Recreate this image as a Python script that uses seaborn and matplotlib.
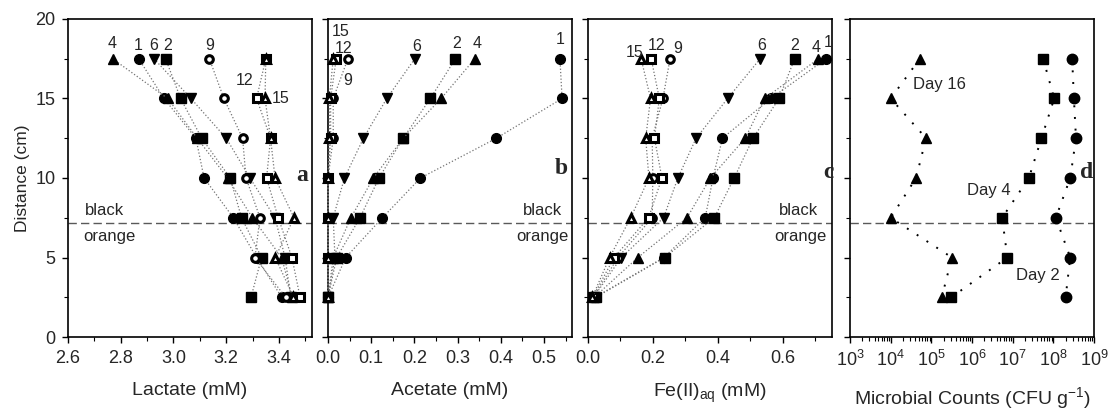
import numpy as np
import pandas as pd
import seaborn as sns
import matplotlib.pyplot as plt
from matplotlib.ticker import MultipleLocator, LogLocator, NullFormatter

# depths (cm) shared by every profile
distance = [17.5, 15, 12.5, 10, 7.5, 5, 2.5]

# profiles for days 1, 2, 4, 6, 9, 12, 15
days = ['1', '2', '4', '6', '9', '12', '15']

lactate = {
    '1': [2.868, 2.964, 3.085, 3.116, 3.227, 3.315, 3.41],
    '2': [2.97, 3.027, 3.107, 3.215, 3.258, 3.334, 3.294],
    '4': [2.769, 2.978, 3.09, 3.205, 3.299, 3.41, 3.45],
    '6': [2.926, 3.066, 3.2, 3.29, 3.385, 3.423, 3.445],
    '9': [3.136, 3.191, 3.262, 3.275, 3.328, 3.309, 3.425],
    '12': [3.35, 3.315, 3.368, 3.353, 3.397, 3.449, 3.48],
    '15': [3.35, 3.347, 3.368, 3.385, 3.457, 3.386, 3.455],
}

acetate = {
    '1': [0.537, 0.542, 0.39, 0.214, 0.126, 0.041, 0.0],
    '2': [0.295, 0.237, 0.174, 0.118, 0.074, 0.02, 0.0],
    '4': [0.34, 0.262, 0.174, 0.105, 0.053, 0.012, 0.0],
    '6': [0.201, 0.136, 0.082, 0.038, 0.012, 0.016, 0.0],
    '9': [0.046, 0.012, 0.012, 0.0, 0.0, 0.0, 0.0],
    '12': [0.019, 0.006, 0.006, 0.0, 0.0, 0.0, 0.0],
    '15': [0.012, 0.003, 0.003, 0.0, 0.0, 0.0, 0.0],
}

iron = {
    '1': [0.733, 0.563, 0.414, 0.385, 0.361, 0.234, 0.022],
    '2': [0.636, 0.588, 0.508, 0.45, 0.389, 0.236, 0.025],
    '4': [0.709, 0.544, 0.484, 0.377, 0.305, 0.154, 0.02],
    '6': [0.53, 0.43, 0.333, 0.277, 0.233, 0.103, 0.018],
    '9': [0.253, 0.231, 0.198, 0.2, 0.198, 0.093, 0.016],
    '12': [0.195, 0.22, 0.205, 0.228, 0.187, 0.081, 0.015],
    '15': [0.164, 0.193, 0.178, 0.188, 0.132, 0.067, 0.014],
}

# microbial counts (CFU/g)
count_days = ['Day 2', 'Day 4', 'Day 16']
counts = {
    'Day 2': [2.9e8, 3.2e8, 3.6e8, 2.6e8, 1.15e8, 2.6e8, 2.0e8],
    'Day 4': [5.6e7, 1.05e8, 5.1e7, 2.5e7, 5.5e6, 7.4e6, 3.1e5],
    'Day 16': [5.2e4, 1.0e4, 7.4e4, 4.2e4, 1.0e4, 3.2e5, 1.8e5],
}

# marker style per day
style = {
    '1': ('o', 'k', 7), '2': ('s', 'k', 6.5), '4': ('^', 'k', 7.5),
    '6': ('v', 'k', 7.5), '9': ('o', 'w', 5.5), '12': ('s', 'w', 5.2),
    '15': ('^', 'w', 6),
}
count_style = {'Day 2': 'o', 'Day 4': 's', 'Day 16': '^'}

sns.set_style('ticks')
plt.rcParams['font.family'] = ['Liberation Sans', 'DejaVu Sans']
plt.rcParams['mathtext.fontset'] = 'custom'
plt.rcParams['mathtext.rm'] = 'Liberation Sans'
plt.rcParams['mathtext.it'] = 'Liberation Sans:italic'

fig = plt.figure(figsize=(11.09, 4.12), dpi=100)
bottom, height = 0.182, 0.772
lefts = [0.0613, 0.2958, 0.530, 0.7665]
width = 0.220
axes = [fig.add_axes([l, bottom, width, height]) for l in lefts]


def long_form(table, keys):
    rows = []
    for d in keys:
        for dist, v in zip(distance, table[d]):
            rows.append({'day': d, 'value': v, 'distance': dist})
    return pd.DataFrame(rows)


def draw_profiles(ax, table):
    df = long_form(table, days)
    for d in days:
        sub = df[df['day'] == d]
        m, fc, ms = style[d]
        sns.lineplot(data=sub, x='value', y='distance', ax=ax, sort=False,
                     estimator=None, color='0.45', linestyle=':', linewidth=0.9,
                     marker=m, markersize=ms, markerfacecolor=fc,
                     markeredgecolor='k',
                     markeredgewidth=1.0 if fc == 'k' else 2.2, zorder=3,
                     clip_on=False)


def labels(ax, items):
    for txt, x, y in items:
        ax.text(x, y, txt, fontsize=11.5, ha='center', va='center')


def zone_labels(ax, xb, xo):
    ax.axhline(7.2, color='0.35', linestyle=(0, (6, 3)), linewidth=1.0, zorder=1)
    ax.text(xb, 7.98, 'black', fontsize=12, ha='center', va='center')
    ax.text(xo, 6.3, 'orange', fontsize=12, ha='center', va='center')


def panel_letter(ax, x, y, s):
    ax.text(x, y, s, fontsize=17, fontweight='bold', family='Liberation Serif',
            ha='center', va='center')


# panel a - lactate
ax = axes[0]
draw_profiles(ax, lactate)
ax.set_xlim(2.6, 3.525)
ax.xaxis.set_major_locator(MultipleLocator(0.2))
ax.xaxis.set_minor_locator(MultipleLocator(0.1))
ax.set_xlabel('Lactate (mM)')
ax.set_ylabel('Distance (cm)', fontsize=12.5)
labels(ax, [('4', 2.769, 18.47), ('1', 2.868, 18.3), ('6', 2.926, 18.3),
            ('2', 2.977, 18.3), ('9', 3.136, 18.3), ('12', 3.271, 16.16),
            ('15', 3.408, 14.97)])
zone_labels(ax, 2.738, 2.757)
panel_letter(ax, 3.488, 10.15, 'a')

# panel b - acetate
ax = axes[1]
draw_profiles(ax, acetate)
ax.set_xlim(0, 0.565)
ax.xaxis.set_major_locator(MultipleLocator(0.1))
ax.xaxis.set_minor_locator(MultipleLocator(0.05))
ax.set_xlabel('Acetate (mM)')
labels(ax, [('15', 0.0295, 19.2), ('12', 0.036, 18.16), ('9', 0.045, 16.16),
            ('6', 0.206, 18.26), ('2', 0.298, 18.47), ('4', 0.346, 18.47),
            ('1', 0.537, 18.68)])
zone_labels(ax, 0.497, 0.497)
panel_letter(ax, 0.54, 10.6, 'b')

# panel c - Fe(II)
ax = axes[2]
draw_profiles(ax, iron)
ax.set_xlim(0, 0.75)
ax.xaxis.set_major_locator(MultipleLocator(0.2))
ax.xaxis.set_minor_locator(MultipleLocator(0.1))
ax.set_xlabel('Fe(II)$_{\\mathrm{aq}}$ (mM)')
labels(ax, [('15', 0.144, 17.9), ('12', 0.212, 18.33), ('9', 0.277, 18.16),
            ('6', 0.534, 18.33), ('2', 0.637, 18.33), ('4', 0.703, 18.2),
            ('1', 0.739, 18.5)])
zone_labels(ax, 0.649, 0.653)
panel_letter(ax, 0.741, 10.36, 'c')

# panel d - microbial counts
ax = axes[3]
ax.set_xscale('log')
cdf = long_form(counts, count_days)
for d in count_days:
    sub = cdf[cdf['day'] == d]
    sns.lineplot(data=sub, x='value', y='distance', ax=ax, sort=False,
                 estimator=None, color='k', linestyle=(0, (1, 5)), linewidth=1.4,
                 marker=count_style[d], markersize=7.5, markerfacecolor='k',
                 markeredgecolor='k', markeredgewidth=1.0, zorder=3)
ax.axhline(7.2, color='0.35', linestyle=(0, (6, 3)), linewidth=1.0, zorder=1)
ax.set_xlim(1e3, 1e9)
ax.xaxis.set_major_locator(LogLocator(base=10, numticks=12))
ax.xaxis.set_minor_locator(LogLocator(base=10, subs=np.arange(2, 10), numticks=100))
ax.xaxis.set_minor_formatter(NullFormatter())
ax.set_xlabel('Microbial Counts (CFU g$^{-1}$)')
for txt, lx, ly in [('Day 16', 10 ** 5.196, 15.85), ('Day 4', 10 ** 6.42, 9.2),
                    ('Day 2', 10 ** 7.63, 3.84)]:
    ax.text(lx, ly, txt, fontsize=12, ha='center', va='center')
panel_letter(ax, 10 ** 8.82, 10.34, 'd')

for i, ax in enumerate(axes):
    ax.set_ylim(0, 20)
    ax.yaxis.set_major_locator(MultipleLocator(5))
    ax.yaxis.set_minor_locator(MultipleLocator(2.5))
    ax.tick_params(axis='both', which='major', direction='out', length=4,
                   width=1, labelsize=13, color='k', pad=5)
    ax.tick_params(axis='both', which='minor', direction='out', length=3,
                   width=0.8, color='k')
    ax.xaxis.label.set_size(14)
    ax.xaxis.labelpad = 11
    if i > 0:
        ax.set_ylabel('')
        ax.tick_params(axis='y', labelleft=False)
    for sp in ax.spines.values():
        sp.set_visible(True)
        sp.set_color('k')
        sp.set_linewidth(1.2)

fig.savefig('out.png', dpi=100)
